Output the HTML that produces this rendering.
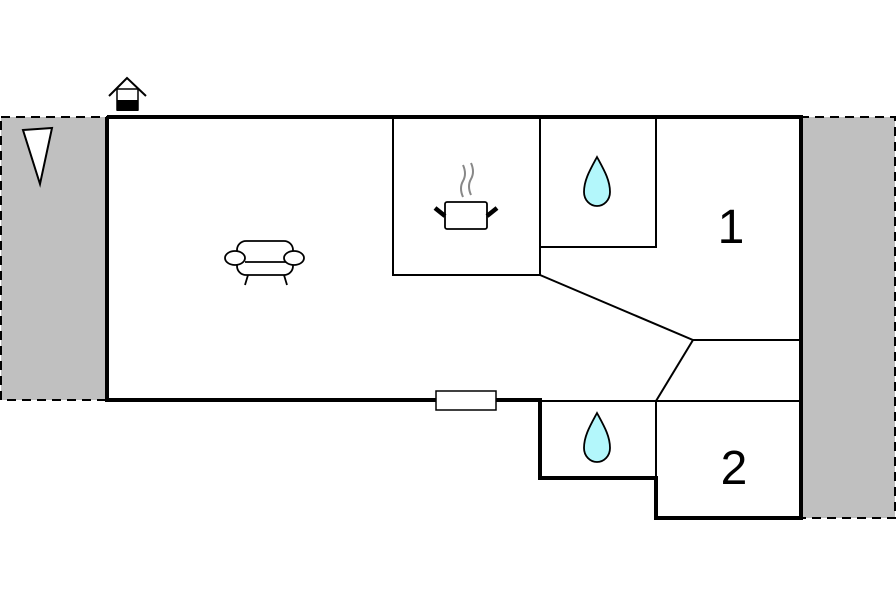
<!DOCTYPE html>
<html><head><meta charset="utf-8"><style>html,body{margin:0;padding:0;background:#fff}svg{display:block}</style></head>
<body>
<svg width="896" height="597" viewBox="0 0 896 597" xmlns="http://www.w3.org/2000/svg">
<rect x="1" y="117" width="106" height="283" fill="#c0c0c0" stroke="#000" stroke-width="2" stroke-dasharray="9,6"/>
<rect x="800" y="117" width="95" height="401" fill="#c0c0c0" stroke="#000" stroke-width="2" stroke-dasharray="9,6"/>
<polygon points="107,117 800,117 800,518 656,518 656,478 540,478 540,400 107,400" fill="#fff"/>
<g stroke="#000" stroke-width="2" fill="none">
<polyline points="393,117 393,275 540,275 540,117"/>
<polyline points="540,247 656,247 656,117"/>
<polyline points="540,275 693,340 800,340"/>
<line x1="693" y1="340" x2="656" y2="401"/>
<line x1="540" y1="401" x2="800" y2="401"/>
<line x1="656" y1="401" x2="656" y2="518"/>
</g>
<polyline points="107,117 801,117 801,518 656,518 656,478 540,478 540,400 107,400 107,117" fill="none" stroke="#000" stroke-width="4"/>
<rect x="436" y="391" width="60" height="19" fill="#fff" stroke="#000" stroke-width="1.5"/>
<polyline points="109,96 127,78 146,96" fill="none" stroke="#000" stroke-width="2"/>
<rect x="117" y="89" width="21" height="21" fill="#fff" stroke="#000" stroke-width="1.5"/>
<rect x="117" y="100" width="21" height="11" fill="#000"/>
<polygon points="23,130 52,128 40,184" fill="#fff" stroke="#000" stroke-width="2"/>
<g stroke="#000" stroke-width="1.8" fill="#fff">
<rect x="237" y="241" width="56" height="34" rx="9"/>
<line x1="245" y1="262" x2="286" y2="262"/>
<ellipse cx="235" cy="258" rx="10" ry="7"/>
<ellipse cx="294" cy="258" rx="10" ry="7"/>
<line x1="248" y1="275" x2="245" y2="285"/>
<line x1="284" y1="275" x2="287" y2="285"/>
</g>
<g>
<path d="M463,197 q-4,-9 0,-16 q4,-7 0,-16" stroke="#888" stroke-width="2" fill="none"/>
<path d="M471,195 q-4,-9 0,-16 q4,-7 0,-16" stroke="#888" stroke-width="2" fill="none"/>
<rect x="445" y="202" width="42" height="27" rx="2" fill="#fff" stroke="#000" stroke-width="1.8"/>
<line x1="435" y1="208" x2="445" y2="216" stroke="#000" stroke-width="4.5"/>
<line x1="497" y1="208" x2="487" y2="216" stroke="#000" stroke-width="4.5"/>
</g>
<path d="M597,157 C590,170 584,180 584,192 C584,200 590,206 597,206 C604,206 610,200 610,192 C610,180 604,170 597,157 Z" fill="#b3f7fb" stroke="#000" stroke-width="1.8"/>
<path d="M597,413 C590,426 584,436 584,448 C584,456 590,462 597,462 C604,462 610,456 610,448 C610,436 604,426 597,413 Z" fill="#b3f7fb" stroke="#000" stroke-width="1.8"/>
<text x="731" y="243" font-family="Liberation Sans, sans-serif" font-size="48" text-anchor="middle" fill="#000">1</text>
<text x="734" y="484" font-family="Liberation Sans, sans-serif" font-size="48" text-anchor="middle" fill="#000">2</text>
</svg>
</body></html>
